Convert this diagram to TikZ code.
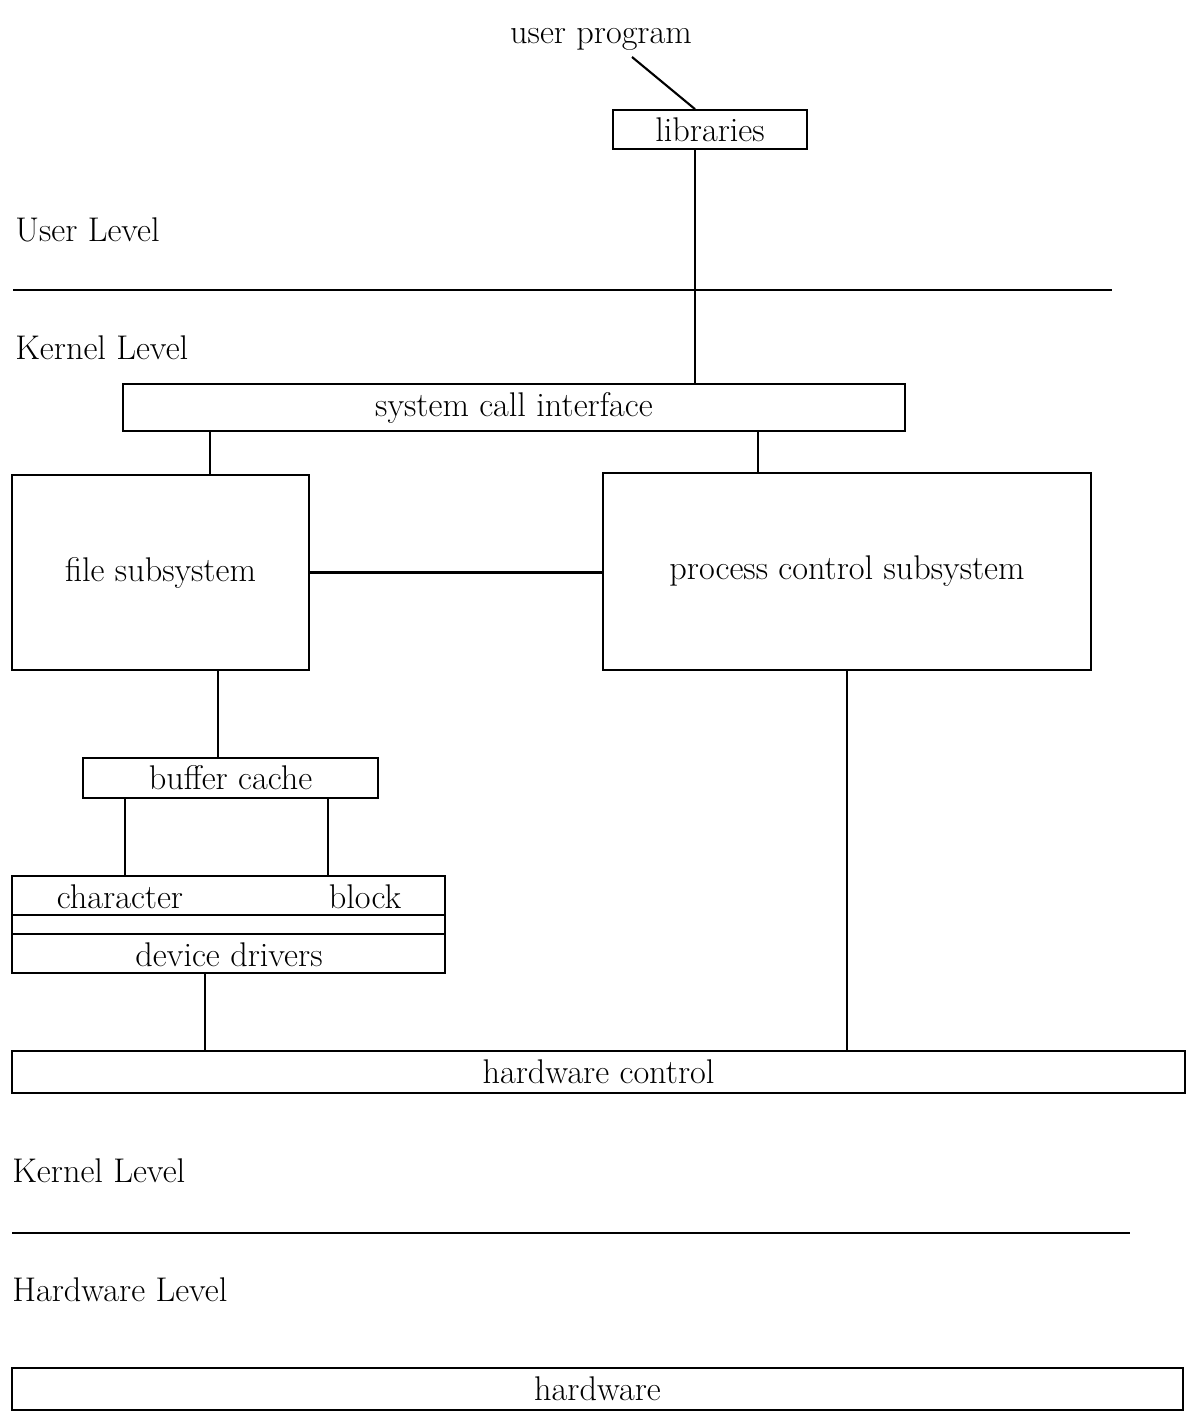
\documentclass[tikz,border=0pt]{standalone}
\usetikzlibrary{calc}
\begin{document}
\begin{tikzpicture}[x=0.02cm,y=-0.02cm,
  box/.style={draw,line width=1pt,inner sep=0pt,font=\fontsize{19.5}{23}\selectfont},
  lbl/.style={inner sep=0pt,font=\fontsize{19.5}{23}\selectfont},
  conn/.style={line width=1.2pt},
  sep/.style={line width=0.8pt}]
\useasboundingbox (0,0) rectangle (1193,1416);
% nodes
\node[lbl] (up) at (601,39) {user program};
\node[box,minimum width=3.88cm,minimum height=0.78cm] (lib) at (710,129.5) {libraries};
\node[lbl,anchor=west] (ul) at (15,230) {User Level};
\node[lbl,anchor=west] (kl1) at (15,348) {Kernel Level};
\node[box,minimum width=15.64cm,minimum height=0.94cm] (sci) at (514,407.5) {system call interface};
\node[box,minimum width=5.94cm,minimum height=3.9cm] (fs) at (160.5,572.5) {file subsystem};
\node[box,minimum width=9.76cm,minimum height=3.94cm] (pcs) at (847,571.5) {process control subsystem};
\node[box,minimum width=5.9cm,minimum height=0.8cm] (bc) at (230.5,778) {buffer cache};
\node[box,minimum width=8.66cm,minimum height=1.94cm] (dd) at (228.5,924.5) {};
\node[lbl] (ch) at (120,897) {character};
\node[lbl] (bl) at (365,897) {block};
\node[lbl] (ddt) at (229,955) {device drivers};
\node[box,minimum width=23.46cm,minimum height=0.84cm] (hc) at (598.5,1072) {hardware control};
\node[lbl,anchor=west] (kl2) at (12,1171) {Kernel Level};
\node[lbl,anchor=west] (hl) at (12,1290) {Hardware Level};
\node[box,minimum width=23.42cm,minimum height=0.84cm] (hw) at (597.5,1389) {hardware};
% helper coordinates
\coordinate (a1) at (632,57);
\coordinate (x695) at (695,0);
\coordinate (x210) at (210,0);
\coordinate (x758) at (758,0);
\coordinate (x218) at (218,0);
\coordinate (x125) at (125,0);
\coordinate (x328) at (328,0);
\coordinate (x205) at (205,0);
\coordinate (y915) at (0,915);
\coordinate (y934) at (0,934);
% level separators
\draw[sep] (13,290) -- (1112,290);
\draw[sep] (12,1233) -- (1130,1233);
% device driver internal lines
\draw[line width=0.8pt] (dd.west |- y915) -- (dd.east |- y915);
\draw[line width=0.8pt] (dd.west |- y934) -- (dd.east |- y934);
% connectors
\draw[conn] (a1) -- (lib.north -| x695);
\draw[conn] (lib.south -| x695) -- (sci.north -| x695);
\draw[conn] (sci.south -| x210) -- (fs.north -| x210);
\draw[conn] (sci.south -| x758) -- (pcs.north -| x758);
\draw[conn] (fs.east) -- (pcs.west |- fs.east);
\draw[conn] (fs.south -| x218) -- (bc.north -| x218);
\draw[conn] (bc.south -| x125) -- (dd.north -| x125);
\draw[conn] (bc.south -| x328) -- (dd.north -| x328);
\draw[conn] (dd.south -| x205) -- (hc.north -| x205);
\draw[conn] (pcs.south) -- (hc.north -| pcs.south);
\end{tikzpicture}
\end{document}
